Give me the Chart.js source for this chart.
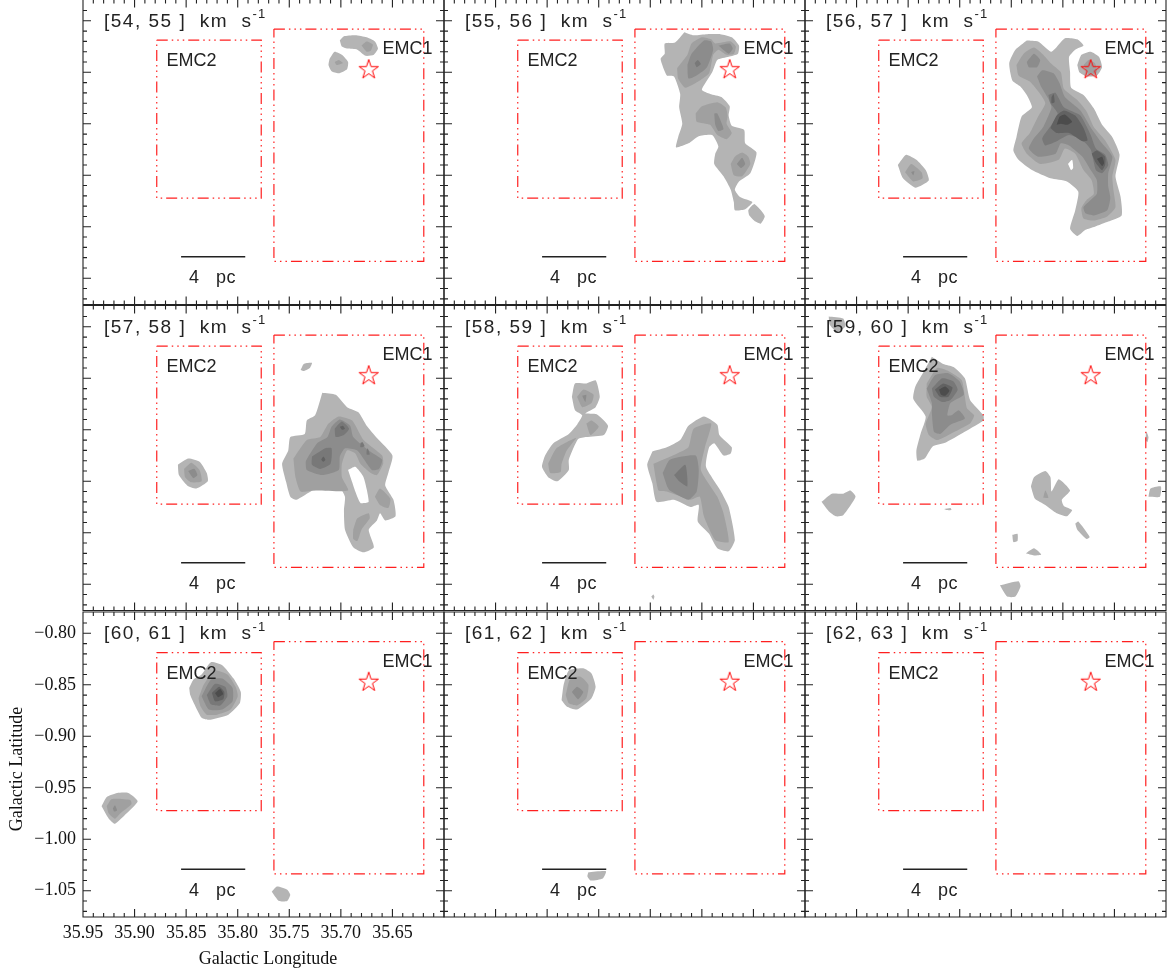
<!DOCTYPE html>
<html><head><meta charset="utf-8">
<style>html,body{margin:0;padding:0;background:#fff;overflow:hidden}canvas{position:absolute}</style>
<script src="https://cdn.jsdelivr.net/npm/chart.js@4/dist/chart.umd.js"></script>
</head><body>
<script>
// Contours: [level, [lon, lat, lon, lat...]]; lon = 35 + v/1000 deg, lat = -v/1000 deg. Level 0 = hole.
const velocityBins = [[54,55],[55,56],[56,57],[57,58],[58,59],[59,60],[60,61],[61,62],[62,63]];
const xMajorTicks = [35.95,35.90,35.85,35.80,35.75,35.70,35.65];
const yMajorTicks = [-0.80,-0.85,-0.90,-0.95,-1.00,-1.05];
const emc1Box = [35.7649,-0.808, 35.6196,-0.808, 35.6196,-1.0336, 35.7649,-1.0336, 35.7649,-0.808];
const emc2Box = [35.8785,-0.8187, 35.7772,-0.8187, 35.7772,-0.9721, 35.8785,-0.9721, 35.8785,-0.8187];
const scaleBar = [35.8549,-1.0291, 35.7927,-1.0291];
const starPos = [35.673,-0.847];
const levelGrey = ['#ffffff','#b4b4b4','#a0a0a0','#8c8c8c','#787878','#626262','#4c4c4c'];

const ch54 = [
[1,[701,819,697,815,686,814,675,816,667,820,664,827,668,833,676,834,684,828,694,827,699,825]],
[2,[680,824,675,820,669,823,671,829,675,830]],
[1,[711,837,706,830,699,833,693,840,694,847,702,851,709,849,712,843]],
[2,[706,840,702,838,698,841,704,843]]];
const ch55 = [
[1,[717,811,708,814,695,813,682,813,671,816,664,824,665,832,674,835,685,838,690,850,700,867,692,871,681,874,673,883,674,892,671,902,659,906,658,919,647,928,653,948,664,956,668,964,663,971,651,976,658,983,668,984,669,976,672,964,679,951,688,939,687,929,684,922,690,911,703,912,713,919,725,923,723,913,719,900,722,884,721,871,727,854,734,853,740,837,736,832,736,822,726,821]],
[1,[653,981,649,978,642,985,639,990,643,997,648,995,654,989,655,984]],
[2,[724,846,714,833,710,822,700,816,691,818,687,822,672,820,667,825,669,832,676,833,684,828,689,833,693,851,702,858,716,865,723,856]],
[3,[714,843,710,832,698,819,691,820,689,828,695,845,705,853,713,856]],
[3,[684,824,673,822,670,827,674,832]],
[4,[707,841,704,838,701,842,705,845]],
[2,[706,890,700,883,685,879,677,884,675,892,676,900,671,909,676,915,685,911,692,901,705,898]],
[3,[688,890,685,890,679,905,684,907,687,901]],
[2,[672,939,668,932,661,928,655,932,653,939,661,951,669,950]],
[3,[666,939,661,933,658,939,662,943]]];
const ch56 = [
[1,[735,819,724,820,711,830,698,817,686,818,680,824,688,828,694,835,693,850,692,865,680,872,670,885,662,901,652,913,645,930,649,951,644,971,643,989,656,995,669,1000,678,1003,686,1009,693,1002,688,984,685,966,696,956,712,953,730,945,743,935,748,926,745,913,740,893,730,884,735,872,741,864,749,858,752,841,746,828]],
[0,[695,939,691,935,690,943,692,945]],
[1,[686,843,682,833,673,830,665,835,662,845,667,853,677,854,684,850]],
[2,[680,843,675,838,669,841,667,850,675,852]],
[2,[745,843,738,832,728,826,719,833,712,841,702,850,699,866,686,877,677,888,670,903,659,916,649,935,652,951,651,964,649,981,657,990,670,994,680,992,682,982,677,974,670,968,672,955,680,945,688,929,698,924,704,935,722,939,735,929,740,919,732,909,724,893,717,880,722,871,732,859,743,853]],
[3,[725,854,720,848,709,851,703,861,698,874,683,887,672,905,662,919,652,932,656,948,656,961,654,972,657,984,670,989,678,987,680,981,673,974,667,968,667,955,673,945,681,932,694,921,702,919,707,929,724,932,733,924,728,914,719,903,711,884,715,874,721,864]],
[3,[735,840,728,832,722,838,725,845,733,845]],
[4,[714,872,707,870,699,884,683,892,673,911,668,924,659,930,656,940,662,948,668,945,673,925,681,916,694,911,706,917,717,921,720,914,711,901,705,890,712,880]],
[5,[712,904,706,892,699,887,688,892,680,904,676,916,681,917,694,909,706,909]],
[5,[672,929,667,926,659,932,659,940,662,945,668,938]],
[5,[711,874,709,871,708,879,711,880]],
[6,[706,901,703,893,698,891,691,898,696,901,702,900]],
[6,[667,934,662,932,660,938,662,941]],
[1,[860,940,852,930,842,935,833,945,830,955,843,962,855,953]],
[2,[853,947,847,939,837,947,836,953,845,956]],
[3,[847,947,844,946,845,950]]];
const ch57 = [
[1,[718,864,705,866,694,878,683,883,675,896,665,908,650,925,654,942,657,954,649,968,647,984,657,988,662,981,665,988,673,997,668,1014,678,1019,688,1014,696,997,697,978,696,965,701,957,727,959,743,968,749,965,753,951,757,933,751,920,749,907,735,904,733,891,725,886]],
[0,[693,939,686,936,678,946,673,970,681,971,686,960,689,951]],
[2,[746,928,733,910,720,907,712,894,702,887,689,891,678,910,660,925,659,933,665,944,671,942,681,933,686,923,694,920,699,933,699,946,693,959,727,959,739,960,744,946]],
[2,[667,965,662,957,652,967,654,976,662,973]],
[2,[688,997,684,986,673,981,672,986,680,997,684,1008,688,1006]],
[3,[731,925,723,913,713,907,709,897,701,890,691,896,688,907,673,920,660,929,663,938,670,939,684,920,696,918,701,926,702,939,718,944,733,939,734,931]],
[4,[728,926,715,918,709,918,710,933,720,938,728,934]],
[4,[706,899,699,892,692,899,697,905,705,907]],
[4,[681,913,679,912,677,916,681,917]],
[4,[675,920,674,918,672,924,675,924]],
[5,[719,929,717,926,715,929,717,931]],
[5,[701,897,698,896,696,899,699,900]],
[1,[858,934,848,928,837,931,830,942,829,950,840,957,849,954,857,944]],
[2,[852,938,845,932,837,939,835,950,845,951,851,946]],
[3,[848,940,842,938,839,944,843,947]],
[1,[739,842,736,836,728,835,730,840,736,843]]];
const ch58 = [
[1,[748,921,734,917,721,910,713,896,698,887,685,895,683,905,671,917,672,923,679,925,688,913,693,917,696,936,682,959,674,975,668,1007,674,1018,685,1015,693,1001,704,989,703,973,711,975,727,968,744,970,748,952,753,934]],
[2,[747,933,724,923,713,917,708,899,691,894,697,917,701,939,685,965,679,981,674,1009,687,1007,698,984,702,965,711,968,734,960,742,959]],
[3,[738,942,731,929,706,925,703,939,705,960,713,968,731,959,734,954]],
[4,[727,944,716,934,714,955,722,950]],
[1,[826,868,823,855,812,855,803,852,799,868,803,878,813,884,802,885,791,896,795,905,812,907,820,909,829,929,829,939,840,950,849,946,855,936,852,925,844,913,829,904,821,895,816,886,823,881]],
[2,[821,868,815,861,805,866,807,874,816,878]],
[3,[816,867,812,866,813,873]],
[2,[812,894,807,891,800,897,808,905]],
[2,[849,933,841,918,822,908,831,920,836,933,837,941,847,942]],
[1,[749,1062,747,1060,746,1062,747,1065]]];
const ch59 = [
[1,[827,829,816,836,806,839,795,850,790,871,777,886,777,891,790,899,813,912,826,916,834,928,841,930,842,920,838,904,833,887,845,870,843,858,834,842]],
[2,[832,855,822,840,811,843,798,852,795,868,793,879,786,886,790,894,809,904,822,910,830,905,833,894,827,878,832,868]],
[3,[832,860,824,847,811,845,800,853,796,866,809,874,812,886,808,886,801,881,795,889,809,895,819,904,825,902,827,884,827,874]],
[4,[827,860,817,850,806,853,802,861,809,871,817,873,825,868]],
[5,[824,861,816,855,807,859,811,868,819,868]],
[6,[820,861,814,858,810,862,814,867,818,866]],
[1,[934,970,924,962,913,962,906,959,901,965,913,983,920,984,927,979]],
[1,[927,790,913,792,911,800,919,805,926,798]],
[1,[815,977,809,976,808,978,813,978]],
[1,[731,955,728,946,717,940,712,946,711,960,704,948,693,959,701,968,699,974,691,978,696,984,706,981,717,973,727,967]],
[2,[719,966,717,959,714,966]],
[1,[688,991,685,989,674,1004,677,1006,686,997]],
[1,[620,910,619,902,617,907,618,912]],
[1,[617,965,615,957,605,955,606,965]],
[1,[749,1002,744,1001,744,1008,748,1009]],
[1,[736,1020,728,1015,721,1021,728,1022]],
[1,[761,1051,743,1047,741,1052,746,1062,754,1062]]];
const ch60 = [
[1,[847,853,843,845,835,840,826,828,815,831,804,844,797,857,798,868,809,879,828,884,835,882,841,871,846,860]],
[2,[838,863,833,850,823,836,810,840,802,852,800,861,807,874,820,879,830,879,836,871]],
[3,[835,861,826,845,815,844,805,853,805,866,815,874,828,874]],
[4,[830,860,822,849,812,852,810,861,817,870,826,869]],
[5,[825,858,818,852,813,857,814,864,822,866]],
[6,[822,858,817,854,814,859,819,862]],
[1,[932,968,927,959,917,955,906,955,897,963,909,976,919,985,925,980]],
[2,[927,968,922,961,904,962,903,966,914,975,919,980,925,975]],
[3,[921,970,919,967,917,972,920,973]],
[1,[767,1051,762,1046,752,1049,749,1054,752,1060,760,1060]]];
const ch61 = [
[1,[836,865,834,850,829,836,815,834,807,839,803,852,807,863,821,874,831,871]],
[2,[832,860,828,845,818,842,810,850,812,863,821,870,829,868]],
[3,[826,857,821,852,815,857,820,864]],
[1,[810,1032,793,1031,796,1038,808,1040,811,1036]]];
const ch62 = [];
const channelContours = [ch54,ch55,ch56,ch57,ch58,ch59,ch60,ch61,ch62];

const colX = [83,444,805], rowY = [-0.5,305.5,612], panelW = 361, panelH = 305, pad = 3;
const TEXT = '#222', AXIS = '#222', RED = '#ff1f1f';
const sans = '"Liberation Sans", Arial, sans-serif', serif = '"Liberation Serif", "Times New Roman", serif';

function pairs(a){const o=[];for(let i=0;i<a.length;i+=2)o.push({x:a[i],y:a[i+1]});return o;}
function decode(a){const o=[];for(let i=0;i<a.length;i+=2)o.push({x:35+a[i]/1000,y:-a[i+1]/1000});o.push(o[0]);return o;}

const starImg = (()=>{const c=document.createElement('canvas');c.width=c.height=24;const g=c.getContext('2d');
  g.strokeStyle='#f00';g.lineWidth=1;g.lineJoin='miter';g.beginPath();
  for(let i=0;i<10;i++){const r=i%2?3.9:10.2,t=-Math.PI/2+i*Math.PI/5;const X=12+r*Math.cos(t),Y=12.5+r*Math.sin(t);i?g.lineTo(X,Y):g.moveTo(X,Y);}
  g.closePath();g.stroke();return c;})();

const frame = {id:'frame', afterDatasetsDraw(ch,_,o){
  const g=ch.ctx,a=ch.chartArea,xs=ch.scales.x,ys=ch.scales.y;
  g.save();
  g.strokeStyle=AXIS;g.lineWidth=1.1;
  g.beginPath();
  const mark=(v,len)=>{const p=xs.getPixelForValue(v);g.moveTo(p,a.bottom);g.lineTo(p,a.bottom-len);g.moveTo(p,a.top);g.lineTo(p,a.top+len);};
  const markY=(v,len)=>{const p=ys.getPixelForValue(v);g.moveTo(a.left,p);g.lineTo(a.left+len,p);g.moveTo(a.right,p);g.lineTo(a.right-len,p);};
  for(let k=0;k<=34;k++){const v=35.95-k*0.01;mark(v,k%5===0?8:4);}
  for(let k=-1;k<=27;k++){const v=-0.80-k*0.01;markY(v,k%5===0?8:4);}
  g.rect(a.left,a.top,a.right-a.left,a.bottom-a.top);
  g.stroke();
  g.fillStyle=TEXT;g.textBaseline='alphabetic';g.textAlign='left';
  g.font='19px '+sans;
  g.letterSpacing='1.5px';
  const txt='['+o.bin[0]+', '+o.bin[1]+' ]  km  s';
  g.fillText(txt,a.left+21,a.top+27);
  const w=g.measureText(txt).width;
  g.font='13px '+sans;g.letterSpacing='1px';
  g.fillText('-1',a.left+21+w,a.top+18.5);
  g.font='18px '+sans;g.letterSpacing='0px';
  g.fillText('EMC2',a.left+83.5,a.top+66.5);
  g.fillText('EMC1',a.left+299.5,a.top+54.5);
  g.letterSpacing='0.5px';
  g.fillText('4   pc',a.left+106,a.top+283.5);
  g.restore();
}};

velocityBins.forEach((bin,i)=>{
  const c=i%3,r=Math.floor(i/3),labelled=(i===6);
  const left=colX[c],top=rowY[r];
  const mL=labelled?83:pad,mB=labelled?55:pad;
  const cv=document.createElement('canvas');
  const cLeft=left-mL,cTop=Math.floor(top-pad);
  const W=mL+panelW+pad,H=(top-cTop)+panelH+mB;
  cv.width=W;cv.height=Math.ceil(H);
  cv.style.left=cLeft+'px';cv.style.top=cTop+'px';cv.style.width=W+'px';cv.style.height=Math.ceil(H)+'px';
  document.body.appendChild(cv);
  const ds=[];
  channelContours[i].forEach(([lvl,arr])=>ds.push({type:'line',data:decode(arr),fill:'shape',backgroundColor:levelGrey[lvl],borderWidth:0,borderColor:'transparent',pointRadius:0,tension:0.18}));
  const boxStyle={type:'line',fill:false,borderColor:RED,borderWidth:1.2,borderDash:[11,4,1.5,4,1.5,4,1.5,4],pointRadius:0,tension:0};
  ds.push({...boxStyle,data:pairs(emc2Box)});
  ds.push({...boxStyle,data:pairs(emc1Box)});
  ds.push({type:'line',data:pairs(scaleBar),fill:false,borderColor:'#222',borderWidth:1.5,pointRadius:0,tension:0});
  ds.push({type:'line',data:[{x:starPos[0],y:starPos[1]}],showLine:false,pointStyle:starImg,pointRadius:10,clip:false});
  ds.forEach((d,k)=>{d.order=-k;});
  const zeroPad=s=>{s.paddingTop=s.paddingBottom=s.paddingLeft=s.paddingRight=0;};
  new Chart(cv,{
    data:{datasets:ds},
    plugins:[frame],
    options:{
      responsive:false,animation:false,devicePixelRatio:1,
      events:[],
      layout:{autoPadding:false,padding:{left:labelled?0:mL,right:pad,top:top-cTop,bottom:labelled?0:mB + (Math.ceil(H)-H)}},
      plugins:{legend:{display:false},tooltip:{enabled:false},frame:{bin}},
      scales:{
        x:{type:'linear',reverse:true,min:35.95,max:35.6,display:labelled,
           grid:{display:false,drawTicks:false},border:{display:false},
           afterBuildTicks:s=>{s.ticks=xMajorTicks.map(v=>({value:v}));},
           afterFit:s=>{s.height=labelled?mB:0;zeroPad(s);},
           ticks:{autoSkip:false,maxRotation:0,padding:5,color:'#111',font:{family:serif,size:18},callback:v=>v.toFixed(2)},
           title:{display:true,text:'  Galactic Longitude',color:'#111',font:{family:serif,size:18},padding:{top:0,bottom:2}}},
        y:{type:'linear',min:-1.0755,max:-0.7793,display:labelled,
           grid:{display:false,drawTicks:false},border:{display:false},
           afterBuildTicks:s=>{s.ticks=yMajorTicks.map(v=>({value:v}));},
           afterFit:s=>{s.width=labelled?mL:0;zeroPad(s);},
           ticks:{autoSkip:false,padding:7,color:'#111',font:{family:serif,size:18},callback:v=>v.toFixed(2).replace('-','\u2212')},
           title:{display:true,text:'Galactic Latitude  ',color:'#111',font:{family:serif,size:18},padding:{top:6,bottom:0}}}
      }
    }
  });
});
</script>
</body></html>
